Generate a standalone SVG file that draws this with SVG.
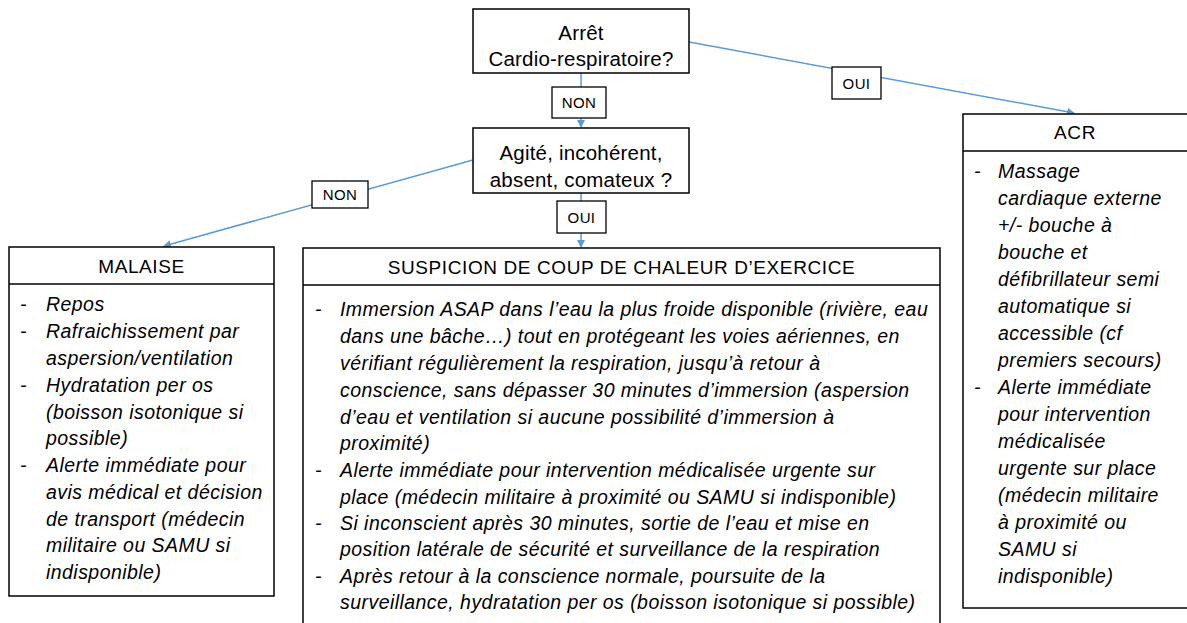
<svg xmlns="http://www.w3.org/2000/svg" width="1187" height="623" viewBox="0 0 1187 623">
<defs>
<marker id="arr" markerWidth="8" markerHeight="8" refX="7" refY="4" orient="auto" markerUnits="userSpaceOnUse">
<path d="M0,0 L8,4 L0,8 Z" fill="#5B9BD5"/>
</marker>
<style>
.box{fill:#fff;stroke:#000;stroke-width:1.5}
.lbl{fill:#fff;stroke:#000;stroke-width:1.3}
.t{font-family:"Liberation Sans",Arial,sans-serif;fill:#000}
.q{font-size:20.5px;letter-spacing:0.2px;text-anchor:middle}
.s{font-size:15px;letter-spacing:0.4px;text-anchor:middle}
.h{font-size:19px;letter-spacing:0.6px;text-anchor:middle}
.b{font-size:19.5px;letter-spacing:0.45px;font-style:italic}
.con{stroke:#5B9BD5;stroke-width:1.5;fill:none}
</style>
</defs>
<g id="connectors">
<line class="con" x1="581" y1="73" x2="581" y2="127" marker-end="url(#arr)"/>
<line class="con" x1="581" y1="193" x2="581" y2="247" marker-end="url(#arr)"/>
<line class="con" x1="689" y1="42" x2="1074" y2="113" marker-end="url(#arr)"/>
<line class="con" x1="473" y1="160" x2="164" y2="246" marker-end="url(#arr)"/>
</g>
<g id="lbl-non1"><rect class="lbl" x="552" y="87" width="54" height="31"/><text class="t s" x="579" y="108">NON</text></g>
<g id="lbl-oui1"><rect class="lbl" x="557" y="201" width="49" height="32"/><text class="t s" x="581.5" y="222.5">OUI</text></g>
<g id="lbl-oui2"><rect class="lbl" x="832" y="67" width="49" height="32"/><text class="t s" x="856.5" y="88.5">OUI</text></g>
<g id="lbl-non2"><rect class="lbl" x="312" y="181" width="56" height="27"/><text class="t s" x="340" y="200">NON</text></g>
<g id="n-arret"><rect class="box" x="473" y="9" width="216" height="64"/>
<text class="t q" x="581" y="40">Arrêt</text><text class="t q" x="581" y="66">Cardio-respiratoire?</text></g>
<g id="n-agite"><rect class="box" x="473" y="128" width="216" height="65"/>
<text class="t q" x="581" y="160">Agité, incohérent,</text><text class="t q" x="581" y="187">absent, comateux ?</text></g>
<g id="n-malaise"><rect class="box" x="9" y="247" width="265" height="349"/><line x1="9" y1="284" x2="274" y2="284" stroke="#000" stroke-width="1.5"/>
<text class="t h" x="141.5" y="273">MALAISE</text>
<g class="t b">
<text x="20" y="311">-</text><text x="46" y="311">Repos</text>
<text x="20" y="338">-</text><text x="46" y="338">Rafraichissement par</text>
<text x="46" y="365">aspersion/ventilation</text>
<text x="20" y="392">-</text><text x="46" y="392">Hydratation per os</text>
<text x="46" y="419">(boisson isotonique si</text>
<text x="46" y="445">possible)</text>
<text x="20" y="472">-</text><text x="46" y="472">Alerte immédiate pour</text>
<text x="46" y="499">avis médical et décision</text>
<text x="46" y="526">de transport (médecin</text>
<text x="46" y="552">militaire ou SAMU si</text>
<text x="46" y="579">indisponible)</text>
</g></g>
<g id="n-suspicion"><rect class="box" x="303" y="248" width="637" height="380"/><line x1="303" y1="285" x2="940" y2="285" stroke="#000" stroke-width="1.5"/>
<text class="t h" x="621.5" y="274">SUSPICION DE COUP DE CHALEUR D’EXERCICE</text>
<g class="t b">
<text x="315" y="316">-</text><text x="340" y="316">Immersion ASAP dans l’eau la plus froide disponible (rivière, eau</text>
<text x="340" y="343">dans une bâche…) tout en protégeant les voies aériennes, en</text>
<text x="340" y="370">vérifiant régulièrement la respiration, jusqu’à retour à</text>
<text x="340" y="397">conscience, sans dépasser 30 minutes d’immersion (aspersion</text>
<text x="340" y="424">d’eau et ventilation si aucune possibilité d’immersion à</text>
<text x="340" y="450">proximité)</text>
<text x="315" y="477">-</text><text x="340" y="477">Alerte immédiate pour intervention médicalisée urgente sur</text>
<text x="340" y="504">place (médecin militaire à proximité ou SAMU si indisponible)</text>
<text x="315" y="530">-</text><text x="340" y="530">Si inconscient après 30 minutes, sortie de l’eau et mise en</text>
<text x="340" y="556">position latérale de sécurité et surveillance de la respiration</text>
<text x="315" y="583">-</text><text x="340" y="583">Après retour à la conscience normale, poursuite de la</text>
<text x="340" y="609">surveillance, hydratation per os (boisson isotonique si possible)</text>
</g></g>
<g id="n-acr"><rect class="box" x="963" y="114" width="240" height="494"/><line x1="963" y1="151" x2="1203" y2="151" stroke="#000" stroke-width="1.5"/>
<text class="t h" x="1075" y="139">ACR</text>
<g class="t b">
<text x="974" y="178">-</text><text x="998" y="178">Massage</text>
<text x="998" y="205">cardiaque externe</text>
<text x="998" y="232">+/- bouche à</text>
<text x="998" y="259">bouche et</text>
<text x="998" y="286">défibrillateur semi</text>
<text x="998" y="313">automatique si</text>
<text x="998" y="340">accessible (cf</text>
<text x="998" y="367">premiers secours)</text>
<text x="974" y="394">-</text><text x="998" y="394">Alerte immédiate</text>
<text x="998" y="421">pour intervention</text>
<text x="998" y="448">médicalisée</text>
<text x="998" y="475">urgente sur place</text>
<text x="998" y="502">(médecin militaire</text>
<text x="998" y="529">à proximité ou</text>
<text x="998" y="556">SAMU si</text>
<text x="998" y="583">indisponible)</text>
</g></g>
</svg>
